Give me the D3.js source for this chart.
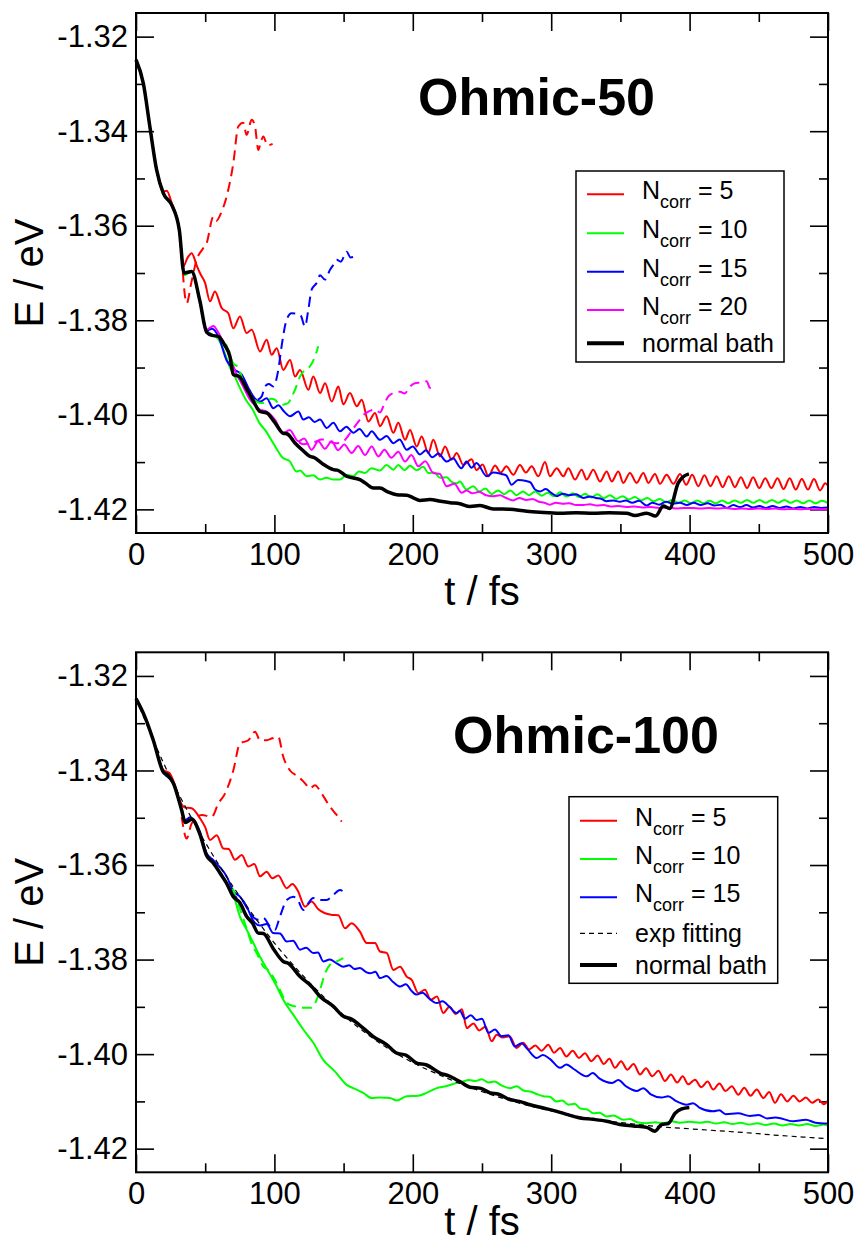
<!DOCTYPE html>
<html>
<head>
<meta charset="utf-8">
<script src="https://cdn.jsdelivr.net/npm/d3@7"></script>
<style>
  body { margin: 0; background: #fff; }
  svg { display: block; font-family: "Liberation Sans", Arial, Helvetica, sans-serif; }
</style>
</head>
<body>
<svg id="chart" width="858" height="1249"></svg>
<script>
// ---- axes ----
const xMajor = [0, 100, 200, 300, 400, 500];
const xMinor = [50, 150, 250, 350, 450];
const yMajor = [-1.32, -1.34, -1.36, -1.38, -1.40, -1.42];
const yMinor = [-1.33, -1.35, -1.37, -1.39, -1.41];

// ---- Ohmic-50 : [t (fs), E (eV)] ----
const top_n5 = [[0,-1.3249],[5.3,-1.3299],[10,-1.3390],[14.9,-1.3482],[19.7,-1.3528],[22.2,-1.3526],[25.8,-1.3552],[31.3,-1.3609],[34.2,-1.3686],[37.2,-1.3668],[40.2,-1.3658],[44,-1.3685],[46.2,-1.3700],[49.9,-1.3721],[53.5,-1.3760],[57,-1.3739],[61.9,-1.3774],[66.7,-1.3785],[70.3,-1.3817],[75.1,-1.3792],[79.9,-1.3827],[83.6,-1.3820],[89.6,-1.3866],[94.4,-1.3841],[98,-1.3873],[101.7,-1.3859],[106.4,-1.3905],[111.3,-1.3884],[114.9,-1.3919],[118.5,-1.3905],[124.5,-1.3947],[128.1,-1.3919],[133,-1.3954],[136.6,-1.3933],[141.4,-1.3972],[146.2,-1.3940],[149.8,-1.3978],[154.6,-1.3954],[159.5,-1.3982],[163.1,-1.3968],[167.9,-1.4014],[172.7,-1.3996],[176.3,-1.4024],[181.1,-1.4003],[185.9,-1.4038],[189.5,-1.4017],[194.4,-1.4053],[198,-1.4032],[202.8,-1.4067],[206.4,-1.4046],[211.2,-1.4081],[214.8,-1.4053],[219.7,-1.4088],[223.3,-1.4067],[228.1,-1.4095],[231.7,-1.4081],[236.5,-1.4106],[242.5,-1.4094],[246,-1.4117],[250.5,-1.4105],[254.6,-1.4130],[259.4,-1.4107],[263.5,-1.4122],[267.6,-1.4109],[272.6,-1.4127],[277.4,-1.4106],[281.7,-1.4122],[285.9,-1.4109],[290.7,-1.4130],[295.5,-1.4100],[299.1,-1.4130],[304,-1.4113],[308.8,-1.4130],[312.4,-1.4113],[317.2,-1.4137],[322,-1.4116],[325.6,-1.4137],[330.4,-1.4116],[335.3,-1.4141],[340.1,-1.4120],[343.7,-1.4141],[348.5,-1.4120],[352.1,-1.4144],[356.9,-1.4123],[361.7,-1.4144],[366.6,-1.4123],[370.2,-1.4144],[375,-1.4125],[378.6,-1.4146],[383.4,-1.4127],[388.3,-1.4146],[393.1,-1.4125],[397.5,-1.4148],[401.9,-1.4127],[406.3,-1.4151],[410.7,-1.4128],[415.1,-1.4151],[419.5,-1.4130],[423.9,-1.4153],[428.3,-1.4130],[432.7,-1.4153],[437.1,-1.4132],[441.5,-1.4155],[445.9,-1.4132],[450.3,-1.4155],[454.7,-1.4134],[459.1,-1.4155],[463.5,-1.4134],[467.9,-1.4157],[472.3,-1.4134],[476.7,-1.4158],[481.1,-1.4136],[485.5,-1.4158],[489.9,-1.4136],[494.3,-1.4160],[498,-1.4145],[500,-1.4150]];
const top_n10 = [[0,-1.3249],[5.3,-1.3299],[10,-1.3390],[14.9,-1.3482],[19.7,-1.3531],[25.8,-1.3556],[31.3,-1.3609],[34.7,-1.3705],[40.2,-1.3697],[46,-1.3760],[51,-1.3822],[55,-1.3830],[59.5,-1.3840],[64,-1.3868],[67.9,-1.3900],[70.3,-1.3912],[74.6,-1.3940],[79.4,-1.3968],[84.3,-1.3989],[89.1,-1.4017],[94,-1.4035],[97.5,-1.4052],[101.2,-1.4070],[106,-1.4091],[111,-1.4098],[116,-1.4120],[118.5,-1.4118],[123.3,-1.4130],[128,-1.4128],[133,-1.4137],[137.5,-1.4133],[142.6,-1.4137],[147.4,-1.4137],[152.2,-1.4127],[157,-1.4130],[161,-1.4120],[165.5,-1.4123],[170,-1.4113],[176.3,-1.4118],[181,-1.4106],[186,-1.4116],[189.5,-1.4106],[194,-1.4117],[198,-1.4108],[202.8,-1.4117],[207.6,-1.4110],[211.2,-1.4123],[215.5,-1.4122],[219.7,-1.4133],[224.5,-1.4132],[228,-1.4142],[231.7,-1.4145],[234,-1.4141],[238.8,-1.4158],[243.6,-1.4151],[248,-1.4162],[252.5,-1.4156],[257,-1.4168],[261.5,-1.4160],[266,-1.4168],[270.5,-1.4160],[275,-1.4170],[279.5,-1.4162],[284,-1.4170],[288.5,-1.4162],[293,-1.4171],[297.5,-1.4165],[302,-1.4172],[306.5,-1.4164],[311,-1.4173],[315.5,-1.4166],[320,-1.4174],[324.5,-1.4167],[329,-1.4175],[333.5,-1.4168],[338,-1.4176],[342.5,-1.4170],[347,-1.4178],[351.5,-1.4172],[356,-1.4179],[360.5,-1.4174],[365,-1.4181],[369.5,-1.4176],[374,-1.4183],[378.5,-1.4178],[383,-1.4185],[387.5,-1.4180],[392,-1.4186],[396.5,-1.4181],[401,-1.4187],[405.5,-1.4181],[410,-1.4187],[414.5,-1.4182],[419,-1.4187],[423.5,-1.4181],[428,-1.4187],[432.5,-1.4181],[437,-1.4186],[441.5,-1.4180],[446,-1.4186],[450.5,-1.4180],[455,-1.4186],[459.5,-1.4180],[464,-1.4186],[468.5,-1.4180],[473,-1.4186],[477.5,-1.4181],[482,-1.4187],[486.5,-1.4181],[491,-1.4187],[495.5,-1.4182],[500,-1.4187]];
const top_n15 = [[0,-1.3249],[5.3,-1.3299],[10,-1.3390],[14.9,-1.3482],[19.7,-1.3531],[25.8,-1.3556],[31.3,-1.3609],[34.7,-1.3700],[40.2,-1.3697],[46,-1.3757],[51,-1.3822],[55,-1.3818],[59.5,-1.3834],[65.5,-1.3885],[71.5,-1.3905],[76.4,-1.3915],[81.2,-1.3943],[86,-1.3966],[89.6,-1.3972],[94.4,-1.3965],[99.2,-1.3986],[102.8,-1.3980],[107,-1.3993],[111.3,-1.4003],[117.3,-1.3993],[120.9,-1.4010],[125,-1.4005],[129,-1.4015],[133,-1.4010],[137.8,-1.4028],[142.6,-1.4017],[147.4,-1.4035],[152,-1.4025],[157,-1.4038],[161.5,-1.4030],[166.7,-1.4046],[170.3,-1.4035],[176.3,-1.4053],[181,-1.4045],[186,-1.4060],[190.5,-1.4052],[195.6,-1.4074],[200,-1.4067],[205.2,-1.4084],[209.5,-1.4075],[214,-1.4090],[218.5,-1.4082],[224.5,-1.4099],[229,-1.4092],[235,-1.4113],[238.8,-1.4099],[242.5,-1.4112],[246,-1.4102],[253.4,-1.4130],[258,-1.4122],[264,-1.4125],[267.5,-1.4128],[271.4,-1.4148],[276,-1.4138],[282,-1.4140],[285,-1.4143],[288.3,-1.4158],[292,-1.4162],[296,-1.4157],[300,-1.4165],[304,-1.4172],[308.5,-1.4167],[313,-1.4170],[318,-1.4168],[323.2,-1.4176],[328,-1.4173],[332.5,-1.4176],[336.5,-1.4178],[340,-1.4183],[345,-1.4181],[349.5,-1.4184],[354,-1.4181],[358.5,-1.4186],[363.5,-1.4182],[369,-1.4192],[373,-1.4186],[378,-1.4190],[383,-1.4184],[388,-1.4188],[393,-1.4186],[398,-1.4191],[403,-1.4186],[408,-1.4191],[413,-1.4187],[418,-1.4192],[422.5,-1.4190],[426.8,-1.4197],[431.5,-1.4191],[436.5,-1.4195],[441,-1.4191],[446,-1.4196],[450.5,-1.4193],[455,-1.4197],[460,-1.4193],[465,-1.4197],[470,-1.4194],[475,-1.4198],[480,-1.4195],[485,-1.4198],[490,-1.4195],[495,-1.4197],[500,-1.4196]];
const top_n20 = [[0,-1.3249],[5.3,-1.3299],[10,-1.3390],[14.9,-1.3482],[19.7,-1.3531],[25.8,-1.3556],[31.3,-1.3609],[34.7,-1.3700],[40.2,-1.3697],[46,-1.3757],[51,-1.3820],[55.9,-1.3812],[59.5,-1.3826],[63.5,-1.3850],[67.9,-1.3877],[72,-1.3910],[76.5,-1.3935],[82.4,-1.3968],[86,-1.3980],[89.6,-1.3989],[94.4,-1.3993],[100.4,-1.4010],[106.4,-1.4039],[111,-1.4032],[117.3,-1.4056],[121.5,-1.4050],[126.9,-1.4074],[131.7,-1.4056],[136.5,-1.4072],[141.4,-1.4056],[146,-1.4075],[150.5,-1.4063],[155.8,-1.4081],[160.5,-1.4066],[165.5,-1.4085],[170.3,-1.4067],[175.1,-1.4088],[179.5,-1.4074],[184.5,-1.4091],[189.5,-1.4078],[194.4,-1.4099],[199,-1.4085],[204,-1.4109],[209,-1.4098],[214.8,-1.4123],[219.5,-1.4125],[224.5,-1.4151],[230,-1.4146],[235.3,-1.4165],[238.8,-1.4160],[243,-1.4166],[248,-1.4163],[253,-1.4170],[258.2,-1.4172],[263,-1.4170],[267.5,-1.4176],[272.6,-1.4181],[277,-1.4176],[282,-1.4180],[286.5,-1.4178],[291,-1.4184],[295,-1.4186],[299,-1.4190],[303.5,-1.4186],[308,-1.4188],[313,-1.4187],[318,-1.4191],[323.2,-1.4191],[328,-1.4189],[333,-1.4192],[338,-1.4191],[343,-1.4194],[348.5,-1.4193],[354.5,-1.4195],[360,-1.4194],[366,-1.4196],[372,-1.4195],[378,-1.4197],[384,-1.4196],[390,-1.4198],[396,-1.4197],[402,-1.4197],[408,-1.4198],[414,-1.4197],[420,-1.4198],[426,-1.4197],[432,-1.4199],[438,-1.4198],[444,-1.4199],[450,-1.4198],[456,-1.4199],[462,-1.4198],[468,-1.4200],[474,-1.4199],[480,-1.4200],[486,-1.4199],[492,-1.4200],[500,-1.4200]];
const top_normal = [[0,-1.3249],[5.3,-1.3299],[10,-1.3390],[14.9,-1.3482],[19.7,-1.3531],[25.8,-1.3556],[31.3,-1.3609],[34.7,-1.3700],[40.2,-1.3697],[46,-1.3757],[51,-1.3825],[55,-1.3832],[59.5,-1.3834],[64,-1.3852],[67.9,-1.3877],[70.3,-1.3915],[74.6,-1.3919],[80,-1.3945],[85,-1.3972],[89.6,-1.3993],[94.4,-1.3996],[100,-1.4015],[106.4,-1.4039],[109,-1.4040],[115,-1.4060],[120,-1.4074],[125.7,-1.4088],[128.5,-1.4090],[135,-1.4104],[142.6,-1.4116],[145.5,-1.4117],[152.2,-1.4130],[161.8,-1.4137],[166,-1.4145],[171.5,-1.4155],[176.3,-1.4155],[182,-1.4163],[188.4,-1.4169],[195.6,-1.4170],[200,-1.4175],[205.2,-1.4181],[212.4,-1.4179],[220,-1.4183],[227,-1.4186],[234,-1.4188],[241.3,-1.4194],[248.5,-1.4192],[258.2,-1.4199],[265,-1.4199],[270.2,-1.4200],[282.3,-1.4204],[291.9,-1.4206],[306.4,-1.4208],[318,-1.4207],[330.4,-1.4208],[342,-1.4207],[354.5,-1.4208],[360.5,-1.4213],[369,-1.4208],[375.5,-1.4214],[381,-1.4193],[385.6,-1.4198],[391.8,-1.4144],[395,-1.4132],[399.5,-1.4125]];
const top_n5_dash = [[33,-1.3665],[36.6,-1.3764],[40,-1.3720],[43.8,-1.3672],[48,-1.3650],[51,-1.3637],[55.9,-1.3581],[58,-1.3590],[61.9,-1.3570],[65.5,-1.3538],[70.3,-1.3468],[73.9,-1.3390],[77.5,-1.3382],[79.9,-1.3408],[83.6,-1.3376],[86,-1.3390],[88.4,-1.3440],[90,-1.3425],[92,-1.3411],[95,-1.3430],[98.7,-1.3427]];
const top_n10_dash = [[65,-1.3850],[68,-1.3875],[70.3,-1.3891],[73.9,-1.3900],[77,-1.3925],[79.9,-1.3943],[83.6,-1.3960],[87.2,-1.3972],[91,-1.3975],[94.4,-1.3972],[97.5,-1.3966],[100.4,-1.3968],[104,-1.3979],[107,-1.3978],[110,-1.3975],[112.5,-1.3962],[114.9,-1.3947],[118.5,-1.3919],[122.1,-1.3905],[125.5,-1.3898],[129.3,-1.3877],[131.7,-1.3855]];
const top_n15_dash = [[88,-1.3968],[91,-1.3960],[93.2,-1.3940],[96,-1.3935],[99.2,-1.3940],[102.8,-1.3905],[105.2,-1.3855],[108.8,-1.3799],[112.4,-1.3785],[116,-1.3786],[119,-1.3790],[122.1,-1.3813],[124.5,-1.3778],[126.9,-1.3735],[130.5,-1.3721],[133,-1.3705],[136.6,-1.3714],[140.2,-1.3693],[142.5,-1.3683],[145,-1.3672],[148,-1.3676],[152.2,-1.3655],[155,-1.3667],[158.2,-1.3665]];
const top_n20_dash = [[108,-1.4040],[112,-1.4048],[116,-1.4055],[120.9,-1.4062],[125.7,-1.4060],[130.5,-1.4056],[134,-1.4052],[137.8,-1.4053],[141,-1.4058],[145,-1.4060],[149,-1.4058],[152.2,-1.4049],[154.6,-1.4039],[158,-1.4025],[161.8,-1.4010],[164.5,-1.4000],[167.9,-1.3993],[172.7,-1.3989],[176.3,-1.3995],[178.7,-1.3982],[182.3,-1.3961],[185.9,-1.3954],[190.8,-1.3951],[194,-1.3955],[198,-1.3940],[201.6,-1.3933],[205.2,-1.3932],[210,-1.3929],[212.4,-1.3943],[214.8,-1.3940]];

// ---- Ohmic-100 ----
const bot_n5 = [[0,-1.3248],[6.5,-1.3287],[12.5,-1.3336],[19.7,-1.3399],[24,-1.3405],[28,-1.3430],[31.8,-1.3465],[35,-1.3478],[40.2,-1.3480],[46.2,-1.3501],[50,-1.3520],[53.5,-1.3547],[58.3,-1.3537],[63.1,-1.3565],[67,-1.3566],[71.5,-1.3589],[76.4,-1.3579],[81.2,-1.3603],[85.5,-1.3598],[89.6,-1.3624],[94.4,-1.3614],[98.5,-1.3628],[102.8,-1.3622],[108.9,-1.3649],[113,-1.3640],[117,-1.3655],[122.1,-1.3688],[126.9,-1.3677],[131.5,-1.3693],[136.6,-1.3702],[141,-1.3705],[146.2,-1.3706],[151,-1.3734],[155.8,-1.3723],[161.8,-1.3741],[166.7,-1.3765],[172.7,-1.3765],[176.3,-1.3783],[181.1,-1.3786],[186,-1.3822],[190.8,-1.3815],[195.6,-1.3836],[199.2,-1.3843],[204,-1.3871],[208.8,-1.3864],[213,-1.3885],[217.5,-1.3878],[222,-1.3913],[226.5,-1.3900],[231,-1.3915],[235.5,-1.3905],[239,-1.3945],[243.8,-1.3935],[248,-1.3950],[252.5,-1.3942],[257,-1.3973],[260.6,-1.3959],[265,-1.3965],[270,-1.3962],[275,-1.3987],[279.8,-1.3976],[284,-1.3990],[288.5,-1.3982],[293,-1.3993],[297.9,-1.3980],[302,-1.3997],[306.4,-1.3987],[311,-1.4005],[315.5,-1.3993],[320,-1.4008],[324.4,-1.3998],[329,-1.4015],[333.5,-1.4003],[338,-1.4021],[342,-1.4010],[346.1,-1.4029],[350.5,-1.4015],[355,-1.4033],[359.5,-1.4021],[364.2,-1.4043],[368.5,-1.4030],[373,-1.4047],[377.5,-1.4035],[382.2,-1.4057],[386.5,-1.4043],[391,-1.4060],[395,-1.4047],[399,-1.4064],[403.9,-1.4054],[408.5,-1.4070],[413,-1.4058],[417.1,-1.4075],[421.5,-1.4062],[426,-1.4078],[430.5,-1.4068],[435.2,-1.4086],[439.5,-1.4071],[444,-1.4088],[448.5,-1.4075],[453.3,-1.4093],[457.5,-1.4080],[461.7,-1.4103],[466,-1.4085],[470.5,-1.4100],[475,-1.4088],[479.5,-1.4100],[484,-1.4092],[488.5,-1.4103],[493,-1.4096],[497,-1.4106],[500,-1.4098]];
const bot_n10 = [[0,-1.3248],[6.5,-1.3287],[12.5,-1.3336],[19.7,-1.3403],[27,-1.3427],[33,-1.3484],[35.6,-1.3508],[40.4,-1.3503],[46.2,-1.3535],[51,-1.3580],[55.9,-1.3596],[60.7,-1.3615],[65.5,-1.3640],[71.5,-1.3674],[75.1,-1.3709],[80,-1.3737],[84.8,-1.3765],[89.6,-1.3794],[95.6,-1.3825],[101.7,-1.3857],[106.4,-1.3885],[113.7,-1.3917],[120.9,-1.3948],[128.1,-1.3976],[135.3,-1.4012],[143.8,-1.4037],[152.2,-1.4065],[157,-1.4072],[164.2,-1.4082],[170.3,-1.4093],[176.3,-1.4092],[183.6,-1.4093],[188.4,-1.4098],[195.6,-1.4089],[204,-1.4088],[210,-1.4082],[217.3,-1.4072],[224,-1.4068],[231.7,-1.4061],[236,-1.4058],[240.5,-1.4055],[245,-1.4057],[249.8,-1.4053],[254.5,-1.4060],[259,-1.4058],[264,-1.4066],[270.2,-1.4072],[275,-1.4068],[280,-1.4077],[286,-1.4080],[290,-1.4085],[294.3,-1.4089],[299,-1.4090],[303.5,-1.4100],[308,-1.4098],[312.4,-1.4107],[317,-1.4105],[321,-1.4115],[326,-1.4117],[330.4,-1.4125],[335,-1.4124],[340,-1.4132],[345,-1.4130],[352.1,-1.4139],[357,-1.4137],[362,-1.4144],[369,-1.4146],[375,-1.4144],[381,-1.4146],[387,-1.4142],[393,-1.4145],[400,-1.4143],[407.5,-1.4145],[413,-1.4143],[419,-1.4147],[425,-1.4144],[431,-1.4148],[437,-1.4145],[443,-1.4149],[449,-1.4146],[455,-1.4150],[461,-1.4147],[467,-1.4151],[473,-1.4148],[479,-1.4151],[485,-1.4148],[491,-1.4152],[497,-1.4149],[500,-1.4152]];
const bot_n15 = [[0,-1.3248],[6.5,-1.3287],[12.5,-1.3336],[19.7,-1.3403],[27,-1.3427],[33,-1.3484],[35.6,-1.3505],[39,-1.3499],[46.2,-1.3530],[51,-1.3575],[55.9,-1.3590],[60.7,-1.3605],[65.5,-1.3624],[70.3,-1.3655],[75.1,-1.3667],[80,-1.3688],[84.8,-1.3718],[89.6,-1.3728],[94.4,-1.3725],[99.2,-1.3744],[104,-1.3745],[108.9,-1.3762],[113.5,-1.3760],[118.5,-1.3779],[123,-1.3775],[128,-1.3786],[131.5,-1.3785],[135.3,-1.3804],[140,-1.3800],[145,-1.3808],[149.8,-1.3815],[154,-1.3812],[158,-1.3820],[161.8,-1.3818],[166,-1.3826],[169.1,-1.3829],[173,-1.3826],[176.3,-1.3839],[181,-1.3835],[186,-1.3848],[190.8,-1.3857],[195,-1.3852],[199,-1.3866],[202.8,-1.3874],[207,-1.3870],[212,-1.3883],[217.3,-1.3892],[221.5,-1.3888],[226.5,-1.3900],[231.7,-1.3913],[234,-1.3908],[237.6,-1.3925],[242,-1.3918],[246,-1.3928],[250,-1.3925],[254.6,-1.3955],[259.4,-1.3948],[264,-1.3962],[269,-1.3960],[273.8,-1.3984],[278.5,-1.3977],[283,-1.3990],[289.5,-1.4008],[294,-1.4002],[299,-1.4010],[306.4,-1.4029],[311,-1.4022],[316.5,-1.4032],[325.6,-1.4047],[330,-1.4040],[335,-1.4052],[343.7,-1.4061],[348.5,-1.4055],[354,-1.4068],[361.7,-1.4078],[366.5,-1.4072],[372,-1.4085],[379.8,-1.4092],[384.5,-1.4089],[390,-1.4099],[397.9,-1.4107],[402.5,-1.4104],[407,-1.4113],[417.1,-1.4121],[421.5,-1.4119],[426,-1.4127],[435,-1.4125],[443.6,-1.4131],[450,-1.4129],[456,-1.4136],[462,-1.4134],[474.9,-1.4142],[484,-1.4139],[491,-1.4145],[500,-1.4147]];
const bot_normal = [[0,-1.3248],[6.5,-1.3287],[12.5,-1.3336],[19.7,-1.3403],[23,-1.3410],[27,-1.3427],[33,-1.3484],[35.6,-1.3510],[40.4,-1.3503],[46.2,-1.3535],[51,-1.3580],[55.9,-1.3596],[60.7,-1.3617],[65.5,-1.3639],[70.3,-1.3667],[75.1,-1.3680],[80,-1.3709],[84,-1.3722],[88.4,-1.3744],[92,-1.3745],[99.2,-1.3777],[106.4,-1.3804],[110,-1.3808],[118.5,-1.3836],[126.9,-1.3857],[133,-1.3878],[142.6,-1.3899],[149.8,-1.3920],[155,-1.3925],[164.2,-1.3945],[171.5,-1.3963],[181.1,-1.3980],[188.4,-1.3998],[195,-1.4002],[202.8,-1.4019],[210,-1.4023],[219.7,-1.4040],[226,-1.4046],[234,-1.4058],[241.3,-1.4070],[248.5,-1.4072],[255.8,-1.4082],[262,-1.4085],[270.2,-1.4096],[277,-1.4100],[284.7,-1.4107],[294.3,-1.4114],[304,-1.4121],[312,-1.4128],[320.8,-1.4135],[330.4,-1.4138],[340,-1.4142],[349.7,-1.4149],[359.3,-1.4152],[369,-1.4155],[375,-1.4163],[379.8,-1.4149],[384.6,-1.4147],[389.5,-1.4125],[394.3,-1.4116],[399.8,-1.4113]];
const bot_expfit = [[0,-1.3248],[10,-1.3318],[20,-1.3385],[30,-1.3445],[40,-1.3500],[50,-1.3552],[60,-1.3600],[70,-1.3645],[80,-1.3687],[90,-1.3727],[100,-1.3765],[120,-1.3832],[140,-1.3891],[160,-1.3942],[180,-1.3984],[200,-1.4018],[220,-1.4045],[240,-1.4069],[260,-1.4089],[280,-1.4106],[300,-1.4120],[320,-1.4132],[340,-1.4141],[360,-1.4148],[380,-1.4154],[400,-1.4158],[420,-1.4162],[440,-1.4166],[460,-1.4171],[480,-1.4175],[500,-1.4179]];
const bot_n5_dash = [[33,-1.3498],[36.6,-1.3544],[40.2,-1.3512],[47.5,-1.3494],[54.7,-1.3498],[59.5,-1.3470],[64.3,-1.3449],[70.3,-1.3400],[75.1,-1.3343],[81.2,-1.3336],[86,-1.3318],[89.6,-1.3336],[94.4,-1.3336],[98.5,-1.3332],[102.8,-1.3329],[106.4,-1.3371],[111.3,-1.3400],[117.3,-1.3413],[122.1,-1.3427],[125.7,-1.3438],[129.3,-1.3431],[134.2,-1.3449],[140.2,-1.3477],[145,-1.3494],[148.6,-1.3508]];
const bot_n10_dash = [[70,-1.3650],[75,-1.3692],[80,-1.3735],[84,-1.3770],[87.2,-1.3786],[92,-1.3815],[95.6,-1.3822],[100.4,-1.3843],[104,-1.3864],[108.9,-1.3892],[114.9,-1.3899],[120.9,-1.3902],[126.9,-1.3902],[130.5,-1.3885],[133,-1.3864],[136.6,-1.3829],[140.2,-1.3811],[145,-1.3804],[149.8,-1.3797]];
const bot_n15_dash = [[68,-1.3655],[72,-1.3668],[76,-1.3672],[80,-1.3690],[84,-1.3708],[88.4,-1.3716],[92,-1.3712],[96.8,-1.3730],[100.4,-1.3737],[104,-1.3709],[108.9,-1.3674],[113.7,-1.3667],[117,-1.3675],[120.9,-1.3695],[124.5,-1.3681],[128,-1.3670],[133,-1.3674],[137.8,-1.3674],[142.6,-1.3663],[147.4,-1.3653],[149.8,-1.3656]];

const nCorrTop = ['5', '10', '15', '20'];
const nCorrBot = ['5', '10', '15'];

const RED = '#ff0000', GREEN = '#00ff00', BLUE = '#0000ff', MAGENTA = '#ff00ff';

const svg = d3.select('#chart');
const x = d3.scaleLinear().domain([0, 500]).range([136, 828]);

function drawPanel(cfg) {
  const y = d3.scaleLinear().domain([-1.425, -1.315]).range([cfg.bottom, cfg.top]);
  const g = svg.append('g');

  // ticks, all pointing inward
  const tick = (axis, vals, size, fmt, pad) => axis.tickValues(vals).tickSize(-size).tickSizeOuter(0)
    .tickPadding(pad || 0).tickFormat(fmt || '');

  const addAxis = (gen, tr) => {
    const a = g.append('g').attr('transform', tr).call(gen);
    a.select('.domain').remove();
    a.selectAll('line').attr('stroke', '#000').attr('stroke-width', 1.6);
    a.selectAll('text').attr('fill', '#000').attr('font-size', 31)
      .attr('font-family', '"Liberation Sans", Arial, sans-serif');
    return a;
  };

  // plain hyphen for the minus sign, as in the original
  const yFmt = d => d.toFixed(2);

  addAxis(tick(d3.axisBottom(x), xMajor, 18, d3.format('d'), 10), `translate(0,${cfg.bottom})`);
  addAxis(tick(d3.axisBottom(x), xMinor, 9), `translate(0,${cfg.bottom})`);
  addAxis(tick(d3.axisTop(x), xMajor, 18), `translate(0,${cfg.top})`);
  addAxis(tick(d3.axisTop(x), xMinor, 9), `translate(0,${cfg.top})`);
  addAxis(tick(d3.axisLeft(y), yMajor, 18, yFmt, 8), 'translate(136,0)');
  addAxis(tick(d3.axisLeft(y), yMinor, 9), 'translate(136,0)');
  addAxis(tick(d3.axisRight(y), yMajor, 18), 'translate(828,0)');
  addAxis(tick(d3.axisRight(y), yMinor, 9), 'translate(828,0)');

  const line = d3.line()
    .x(d => x(d[0]))
    .y(d => y(d[1]))
    .curve(d3.curveMonotoneX);

  cfg.series.forEach(s => {
    g.append('path')
      .datum(s.data)
      .attr('d', line)
      .attr('fill', 'none')
      .attr('stroke', s.color)
      .attr('stroke-width', s.width)
      .attr('stroke-dasharray', s.dash || null)
      .attr('stroke-linejoin', 'round');
  });

  // frame
  g.append('rect')
    .attr('x', 136).attr('y', cfg.top)
    .attr('width', 692).attr('height', cfg.bottom - cfg.top)
    .attr('fill', 'none').attr('stroke', '#000').attr('stroke-width', 2);

  g.append('text')
    .attr('x', cfg.titleX).attr('y', cfg.titleY)
    .attr('font-size', 52).attr('font-weight', 'bold')
    .text(cfg.title);

  g.append('text')
    .attr('x', 482).attr('y', cfg.bottom + cfg.xlabOff)
    .attr('text-anchor', 'middle').attr('font-size', 40)
    .text('t / fs');

  g.append('text')
    .attr('transform', `translate(43,${(cfg.top + cfg.bottom) / 2}) rotate(-90)`)
    .attr('text-anchor', 'middle').attr('font-size', 40)
    .text('E / eV');

  // legend
  const lg = cfg.legend;
  g.append('rect')
    .attr('x', lg.x).attr('y', lg.y).attr('width', lg.w).attr('height', lg.h)
    .attr('fill', '#fff').attr('stroke', '#000').attr('stroke-width', 1.5);

  lg.items.forEach((it, i) => {
    const ly = lg.rows[i];
    g.append('line')
      .attr('x1', lg.x + 11).attr('x2', lg.x + 48)
      .attr('y1', ly).attr('y2', ly)
      .attr('stroke', it.color).attr('stroke-width', it.width)
      .attr('stroke-dasharray', it.dash || null);
    const t = g.append('text')
      .attr('x', lg.x + 66).attr('font-size', 25);
    if (it.n) {
      t.attr('y', ly + 5);
      t.append('tspan').text('N');
      t.append('tspan').attr('font-size', 18).attr('dy', 9).text('corr');
      t.append('tspan').attr('dy', -9).text(' = ' + it.n);
    } else {
      t.attr('y', ly + 9).text(it.label);
    }
  });
}

drawPanel({
  top: 13, bottom: 533, xlabOff: 72,
  title: 'Ohmic-50', titleX: 418, titleY: 115,
  series: [
    {data: top_n5, color: RED, width: 2},
    {data: top_n10, color: GREEN, width: 2},
    {data: top_n15, color: BLUE, width: 2},
    {data: top_n20, color: MAGENTA, width: 2},
    {data: top_n5_dash, color: RED, width: 2, dash: '10,6'},
    {data: top_n10_dash, color: GREEN, width: 2, dash: '10,6'},
    {data: top_n15_dash, color: BLUE, width: 2, dash: '10,6'},
    {data: top_n20_dash, color: MAGENTA, width: 2, dash: '10,6'},
    {data: top_normal, color: '#000', width: 3.5}
  ],
  legend: {
    x: 576, y: 171, w: 208, h: 191,
    rows: [194.3, 233.3, 271.7, 310, 343.3],
    items: [
      {n: nCorrTop[0], color: RED, width: 2},
      {n: nCorrTop[1], color: GREEN, width: 2},
      {n: nCorrTop[2], color: BLUE, width: 2},
      {n: nCorrTop[3], color: MAGENTA, width: 2},
      {label: 'normal bath', color: '#000', width: 4}
    ]
  }
});

drawPanel({
  top: 652.3, bottom: 1172.3, xlabOff: 63,
  title: 'Ohmic-100', titleX: 453, titleY: 753,
  series: [
    {data: bot_n5, color: RED, width: 2},
    {data: bot_n10, color: GREEN, width: 2},
    {data: bot_n15, color: BLUE, width: 2},
    {data: bot_n5_dash, color: RED, width: 2, dash: '10,6'},
    {data: bot_n10_dash, color: GREEN, width: 2, dash: '10,6'},
    {data: bot_n15_dash, color: BLUE, width: 2, dash: '10,6'},
    {data: bot_normal, color: '#000', width: 3.5},
    {data: bot_expfit, color: '#000', width: 1.2, dash: '5,4'}
  ],
  legend: {
    x: 569, y: 796.7, w: 208.7, h: 186.6,
    rows: [820.7, 859, 897.3, 933.3, 965],
    items: [
      {n: nCorrBot[0], color: RED, width: 2},
      {n: nCorrBot[1], color: GREEN, width: 2},
      {n: nCorrBot[2], color: BLUE, width: 2},
      {label: 'exp fitting', color: '#000', width: 1.2, dash: '5,4'},
      {label: 'normal bath', color: '#000', width: 4}
    ]
  }
});
</script>
</body>
</html>
